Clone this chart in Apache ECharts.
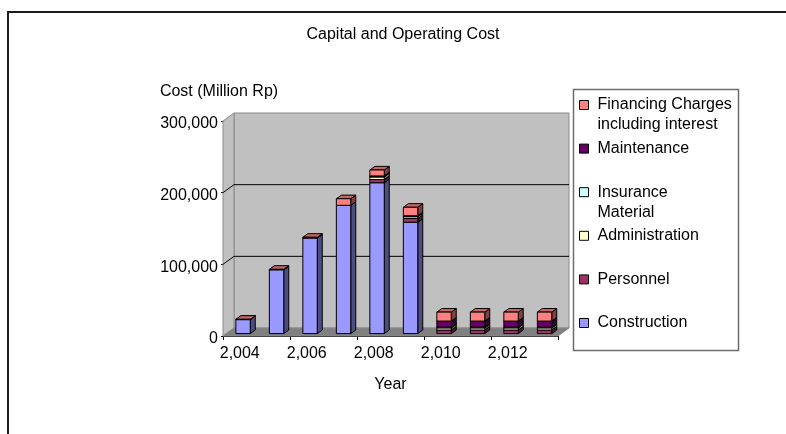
<!DOCTYPE html>
<html>
<head>
<meta charset="utf-8">
<script src="https://cdn.jsdelivr.net/npm/echarts@6/dist/echarts.min.js"></script>
<style>
  html, body { margin: 0; padding: 0; background: #fff; }
  #chart { width: 786px; height: 434px; }
</style>
</head>
<body>
<div id="chart"></div>
<script>
// Cost components per year (Million Rp)
const years = [2004, 2005, 2006, 2007, 2008, 2009, 2010, 2011, 2012, 2013];
const construction = [19500, 89000, 133300, 179000, 210500, 155300, 0, 0, 0, 0];
const personnel    = [0, 0, 0, 0, 4500, 5300, 5000, 5000, 5000, 5000];
const administration = [0, 0, 0, 0, 3700, 2500, 3000, 3000, 3000, 3000];
const insurance    = [0, 0, 0, 0, 300, 300, 1000, 1000, 1000, 1000];
const maintenance  = [0, 0, 0, 0, 1000, 1000, 8500, 8500, 8500, 8500];
const financing    = [500, 700, 1100, 9200, 8300, 11900, 12500, 12500, 12500, 12500];
const yTicks = [0, 100000, 200000, 300000];

const seriesNames = ['Construction', 'Personnel', 'Administration', 'Insurance Material', 'Maintenance', 'Financing Charges including interest'];
const seriesValues = [construction, personnel, administration, insurance, maintenance, financing];
const seriesColors = ['#9999FF', '#993366', '#FFFFCC', '#CCFFFF', '#660066', '#FF8080'];
// wrapped legend labels; the leading blank line keeps the swatch beside the first line
const legendText = {
  'Financing Charges including interest': ' \nFinancing Charges\nincluding interest',
  'Insurance Material': ' \nInsurance\nMaterial'
};

// wall depth offset of the 3-D box
const DX = 11, DY = -8;
const FONT = 'Liberation Sans, Arial, sans-serif';

function shade(hex, k) {
  const n = parseInt(hex.slice(1), 16);
  const r = Math.round(((n >> 16) & 255) * k);
  const g = Math.round(((n >> 8) & 255) * k);
  const b = Math.round((n & 255) * k);
  return 'rgb(' + r + ',' + g + ',' + b + ')';
}

function fmt(v) { return Number(v).toLocaleString('en-US'); }

// walls, floor and gridlines of the box
function renderWalls(params, api) {
  const cs = params.coordSys;
  const L = cs.x, R = cs.x + cs.width, T = cs.y, B = cs.y + cs.height;
  const children = [
    { type: 'polygon', shape: { points: [[L + DX, T + DY], [R + DX, T + DY], [R + DX, B + DY], [L + DX, B + DY]] },
      style: { fill: '#C0C0C0', stroke: '#8a8a8a', lineWidth: 1 } },
    { type: 'polygon', shape: { points: [[L, T], [L + DX, T + DY], [L + DX, B + DY], [L, B]] },
      style: { fill: '#C0C0C0', stroke: '#8a8a8a', lineWidth: 1 } },
    { type: 'polygon', shape: { points: [[L, B], [R, B], [R + DX, B + DY], [L + DX, B + DY]] },
      style: { fill: '#808080', stroke: '#8a8a8a', lineWidth: 1 } }
  ];
  yTicks.slice(1, -1).forEach(function (t) {
    const y = api.coord([0, t])[1];
    children.push({ type: 'polyline', shape: { points: [[L, y], [L + DX, y + DY], [R + DX, y + DY]] },
      style: { stroke: '#000', lineWidth: 1, fill: null } });
  });
  return { type: 'group', children: children };
}

// one stacked block with front, top and side faces
function makeRender(color) {
  return function (params, api) {
    const v = api.value(1);
    if (!v) return null;
    const i = api.value(0), base = api.value(2);
    const p0 = api.coord([i, base]);
    const p1 = api.coord([i, base + v]);
    const bw = api.size([1, 0])[0] * 0.43;
    const ox = 3.3, oy = -2.4, ddx = 5, ddy = -3.6;
    const cx = p0[0] + ox;
    const yb = p0[1] + oy, yt = p1[1] + oy;
    const xl = cx - bw / 2, xr = cx + bw / 2;
    return {
      type: 'group',
      children: [
        { type: 'polygon', shape: { points: [[xr, yt], [xr + ddx, yt + ddy], [xr + ddx, yb + ddy], [xr, yb]] },
          style: { fill: shade(color, 0.5), stroke: '#000', lineWidth: 1 } },
        { type: 'polygon', shape: { points: [[xl, yt], [xl + ddx, yt + ddy], [xr + ddx, yt + ddy], [xr, yt]] },
          style: { fill: shade(color, 0.78), stroke: '#000', lineWidth: 1 } },
        { type: 'rect', shape: { x: xl, y: yt, width: bw, height: yb - yt },
          style: { fill: color, stroke: '#000', lineWidth: 1 } }
      ]
    };
  };
}

const series = [{
  type: 'custom',
  name: 'walls',
  renderItem: renderWalls,
  data: [[0, 0]],
  silent: true,
  z: 1
}];

const running = years.map(function () { return 0; });
seriesValues.forEach(function (vals, k) {
  const data = vals.map(function (v, i) {
    const item = [i, v, running[i]];
    running[i] += v;
    return item;
  });
  series.push({
    type: 'custom',
    name: seriesNames[k],
    renderItem: makeRender(seriesColors[k]),
    itemStyle: { color: seriesColors[k] },
    encode: { x: 0, y: 1 },
    data: data,
    z: 2
  });
});

const legendOrder = seriesNames.slice().reverse();

const option = {
  animation: false,
  backgroundColor: '#fff',
  textStyle: { fontFamily: FONT, color: '#000' },
  title: {
    text: 'Capital and Operating Cost',
    left: 403, top: 27, padding: 0, textAlign: 'center',
    textStyle: { fontSize: 16, fontWeight: 'normal', color: '#000', fontFamily: FONT }
  },
  graphic: [
    { type: 'rect', shape: { x: 8, y: 12, width: 800, height: 450 },
      style: { fill: 'none', stroke: '#1a1a1a', lineWidth: 2 }, z: 0 },
    { type: 'rect', shape: { x: 573.5, y: 89.5, width: 165, height: 261 },
      style: { fill: '#fff', stroke: '#6e6e6e', lineWidth: 1.5 }, z: 1 }
  ],
  legend: {
    orient: 'vertical',
    left: 579, top: 75, padding: 0,
    itemWidth: 9, itemHeight: 9, itemGap: -16.4,
    selectedMode: false,
    icon: 'rect',
    z: 5,
    textStyle: { fontSize: 16, lineHeight: 20, color: '#000', fontFamily: FONT },
    formatter: function (name) { return legendText[name] || name; },
    data: legendOrder.map(function (name) {
      const k = seriesNames.indexOf(name);
      const two = !!legendText[name];
      return {
        name: name,
        itemStyle: { color: seriesColors[k], borderColor: '#000', borderWidth: 1 },
        textStyle: { padding: two ? [0, 0, 0, 4] : [20, 0, 20, 4] }
      };
    })
  },
  grid: { left: 223, top: 121, width: 335, height: 215 },
  xAxis: {
    type: 'category',
    data: years.map(String),
    name: 'Year',
    nameLocation: 'middle',
    nameGap: 41,
    nameTextStyle: { fontSize: 16, color: '#000' },
    axisLine: { lineStyle: { color: '#000', width: 1 } },
    axisTick: { show: true, length: 4, lineStyle: { color: '#000' } },
    axisLabel: { interval: 1, fontSize: 16, color: '#000', margin: 10, formatter: fmt },
    splitLine: { show: false }
  },
  yAxis: {
    type: 'value',
    min: 0, max: 300000, interval: 100000,
    name: 'Cost (Million Rp)',
    nameLocation: 'end',
    nameGap: 21,
    nameTextStyle: { fontSize: 16, color: '#000', align: 'center', padding: [0, 8, 0, 0] },
    axisLine: { show: true, lineStyle: { color: '#000', width: 1 } },
    axisTick: { show: true, length: 2, lineStyle: { color: '#000' } },
    axisLabel: {
      margin: 5,
      formatter: function (v) { return '{n|' + fmt(v) + '}'; },
      rich: { n: { fontSize: 16, color: '#000', fontFamily: FONT, padding: [6, 0, 0, 0] } }
    },
    splitLine: { show: false }
  },
  series: series
};

const chart = echarts.init(document.getElementById('chart'), null, { renderer: 'canvas' });
chart.setOption(option);
</script>
</body>
</html>
